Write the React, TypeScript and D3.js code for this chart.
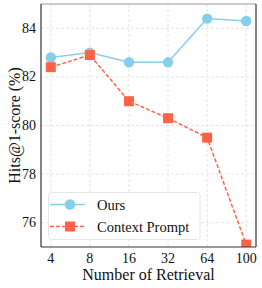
import * as d3 from "d3";
import React from "react";

const retrieval = ["4", "8", "16", "32", "64", "100"];
const ours = [82.8, 83.0, 82.6, 82.6, 84.4, 84.3];
const contextPrompt = [82.4, 82.9, 81.0, 80.3, 79.5, 75.1];
const yTicks = [76, 78, 80, 82, 84];

const W = 262,
  H = 288;
const margin = { top: 4, right: 6, bottom: 41, left: 41 };

const App = () => {
  const x = d3
    .scaleLinear()
    .domain([-0.25, 5.25])
    .range([margin.left, W - margin.right]);
  const y = d3
    .scaleLinear()
    .domain([75, 85])
    .range([H - margin.bottom, margin.top]);

  const line = d3
    .line<number>()
    .x((_, i) => x(i))
    .y((d) => y(d));

  const font = "'Liberation Serif', 'Times New Roman', serif";
  const left = margin.left,
    right = W - margin.right,
    top = margin.top,
    bottom = H - margin.bottom;

  return (
    <svg
      width={W}
      height={H}
      style={{ position: "absolute", left: 0, top: 0 }}
      fontFamily={font}
    >
      <rect width={W} height={H} fill="#fff" />
      <defs>
        <clipPath id="plot">
          <rect x={left} y={top} width={right - left} height={bottom - top} />
        </clipPath>
      </defs>
      {/* grid */}
      {retrieval.map((_, i) => (
        <line
          key={"gx" + i}
          x1={x(i)}
          x2={x(i)}
          y1={top}
          y2={bottom}
          stroke="#ddd"
          strokeWidth={0.8}
          strokeDasharray="3,2"
        />
      ))}
      {yTicks.map((t) => (
        <line
          key={"gy" + t}
          x1={left}
          x2={right}
          y1={y(t)}
          y2={y(t)}
          stroke="#ddd"
          strokeWidth={0.8}
          strokeDasharray="3,2"
        />
      ))}
      <g clipPath="url(#plot)">
        <path
          d={line(ours) || ""}
          fill="none"
          stroke="#87CEEB"
          strokeWidth={1.5}
        />
        {ours.map((d, i) => (
          <circle key={"o" + i} cx={x(i)} cy={y(d)} r={5.2} fill="#87CEEB" />
        ))}
        <path
          d={line(contextPrompt) || ""}
          fill="none"
          stroke="#FF6347"
          strokeWidth={1.5}
          strokeDasharray="4,2"
        />
        {contextPrompt.map((d, i) => (
          <rect
            key={"c" + i}
            x={x(i) - 5}
            y={y(d) - 5}
            width={10}
            height={10}
            fill="#FF6347"
          />
        ))}
      </g>
      {/* spines */}
      <line x1={left} x2={right} y1={top} y2={top} stroke="#999" strokeWidth={1.2} />
      <line x1={right} x2={right} y1={top} y2={bottom} stroke="#333" strokeWidth={1.2} />
      <line x1={left} x2={left} y1={top} y2={bottom} stroke="#333" strokeWidth={1.2} />
      <line x1={left} x2={right} y1={bottom} y2={bottom} stroke="#333" strokeWidth={1.2} />
      {/* ticks */}
      {yTicks.map((t) => (
        <text
          key={"ty" + t}
          x={left - 5}
          y={y(t)}
          textAnchor="end"
          dominantBaseline="central"
          fontSize={14}
          fill="#111"
        >
          {t}
        </text>
      ))}
      {retrieval.map((t, i) => (
        <text
          key={"tx" + t}
          x={x(i)}
          y={bottom + 16}
          textAnchor="middle"
          fontSize={14}
          fill="#111"
        >
          {t}
        </text>
      ))}
      <text x={(left + right) / 2} y={280} textAnchor="middle" fontSize={16} fill="#111">
        Number of Retrieval
      </text>
      <text
        transform={`translate(14,${(top + bottom) / 2}) rotate(-90)`}
        textAnchor="middle"
        dominantBaseline="central"
        fontSize={16}
        fill="#111"
      >
        Hits@1-score (%)
      </text>
      {/* legend */}
      <g>
        <rect
          x={48.5}
          y={192.5}
          width={151.5}
          height={47}
          rx={3}
          fill="#fff"
          fillOpacity={0.85}
          stroke="#ddd"
          strokeWidth={0.8}
        />
        <line x1={50} x2={85} y1={204.5} y2={204.5} stroke="#87CEEB" strokeWidth={1.5} />
        <circle cx={70} cy={204.5} r={5.2} fill="#87CEEB" />
        <text x={97} y={204.5} dominantBaseline="central" fontSize={14.5} fill="#111">
          Ours
        </text>
        <line
          x1={50}
          x2={85}
          y1={226.5}
          y2={226.5}
          stroke="#FF6347"
          strokeWidth={1.5}
          strokeDasharray="4,2"
        />
        <rect x={65} y={221.5} width={10} height={10} fill="#FF6347" />
        <text x={97} y={226.5} dominantBaseline="central" fontSize={14.5} fill="#111">
          Context Prompt
        </text>
      </g>
    </svg>
  );
};

export default App;
